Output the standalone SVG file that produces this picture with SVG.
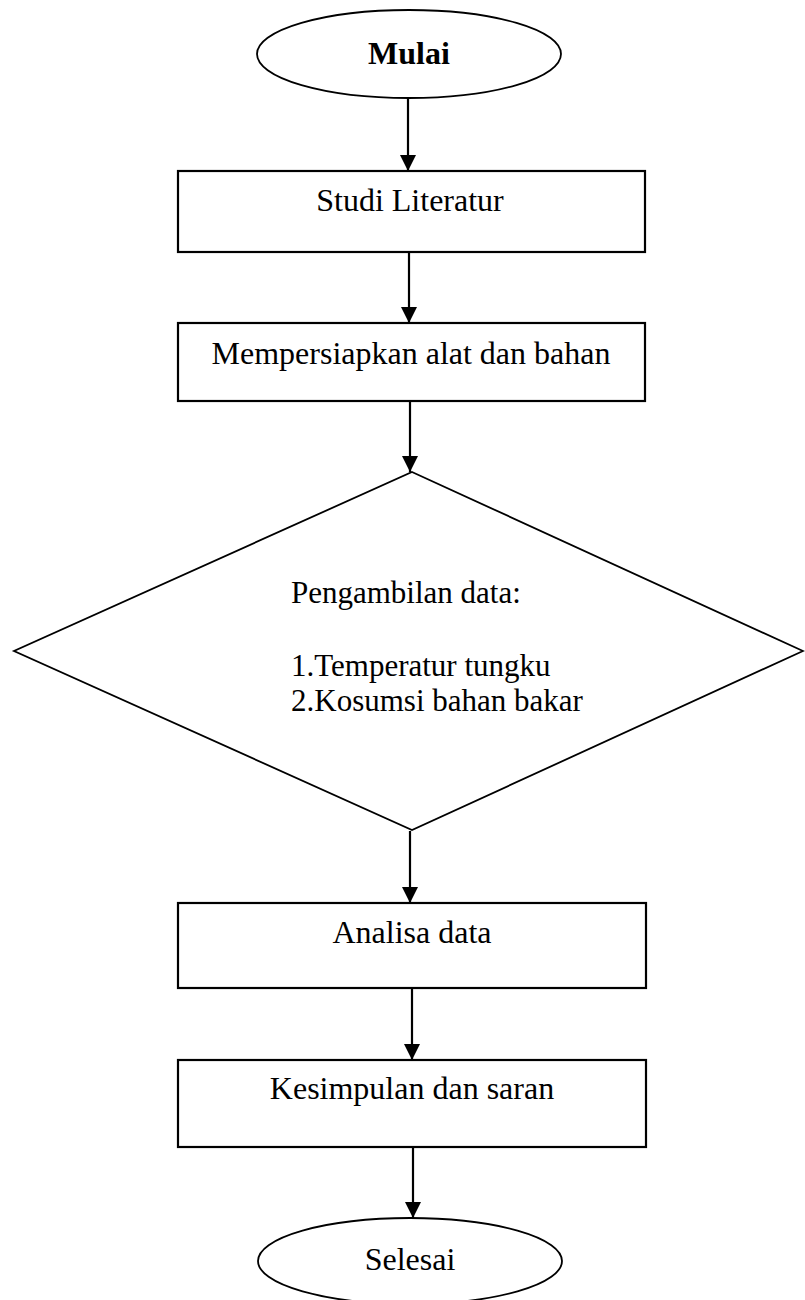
<svg xmlns="http://www.w3.org/2000/svg" width="805" height="1300" viewBox="0 0 805 1300">
<style>
.shape{fill:#fff;stroke:#000;stroke-width:1.8}
.box{fill:#fff;stroke:#000;stroke-width:2.2}
.t{font-family:"Liberation Serif","Times New Roman",serif;font-size:32px;fill:#000}
.d{font-size:31px}
.c{text-anchor:middle}
.conn{stroke:#000;stroke-width:2.2;fill:none}
</style>
<defs>
<marker id="ah" markerUnits="userSpaceOnUse" markerWidth="16" markerHeight="16" viewBox="0 0 16 16" refX="16" refY="8" orient="auto">
<path d="M0,0 L16,8 L0,16 Z" fill="#000"/>
</marker>
</defs>
<g id="connectors">
<line class="conn" x1="408" y1="98" x2="408" y2="171" marker-end="url(#ah)"/>
<line class="conn" x1="409" y1="252" x2="409" y2="323" marker-end="url(#ah)"/>
<line class="conn" x1="410" y1="401" x2="410" y2="472" marker-end="url(#ah)"/>
<line class="conn" x1="410" y1="831" x2="410" y2="903" marker-end="url(#ah)"/>
<line class="conn" x1="412" y1="988" x2="412" y2="1060" marker-end="url(#ah)"/>
<line class="conn" x1="413" y1="1147" x2="413" y2="1218" marker-end="url(#ah)"/>
</g>
<g id="start">
<ellipse class="shape" cx="409" cy="54" rx="152" ry="44"/>
<text class="t c" x="409" y="64" font-weight="bold">Mulai</text>
</g>
<g id="studi">
<rect class="box" x="178" y="171" width="467" height="81"/>
<text class="t c" x="410" y="211">Studi Literatur</text>
</g>
<g id="persiapan">
<rect class="box" x="178" y="323" width="467" height="78"/>
<text class="t c" x="411" y="364">Mempersiapkan alat dan bahan</text>
</g>
<g id="pengambilan">
<polygon class="shape" points="412,472 803,651 412,830 14,651"/>
<text class="t d" x="291" y="603">Pengambilan data:</text>
<text class="t d" x="291" y="676">1.Temperatur tungku</text>
<text class="t d" x="291" y="711">2.Kosumsi bahan bakar</text>
</g>
<g id="analisa">
<rect class="box" x="178" y="903" width="468" height="85"/>
<text class="t c" x="412" y="943">Analisa data</text>
</g>
<g id="kesimpulan">
<rect class="box" x="178" y="1060" width="468" height="87"/>
<text class="t c" x="412" y="1099">Kesimpulan dan saran</text>
</g>
<g id="selesai">
<ellipse class="shape" cx="410" cy="1261" rx="152" ry="43"/>
<text class="t c" x="410" y="1270" font-size="26.5">Selesai</text>
</g>
</svg>
